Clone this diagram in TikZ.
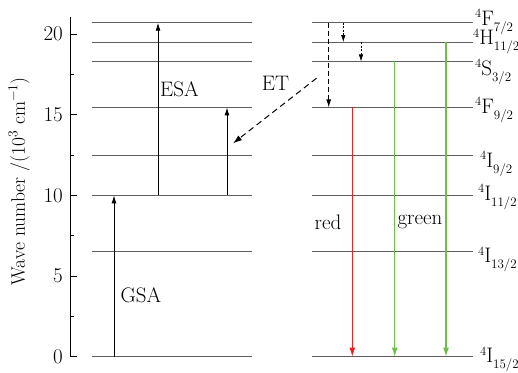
\documentclass[tikz,border=0pt]{standalone}
\usepackage{fontspec}
\usepackage{xcolor}
\usetikzlibrary{arrows.meta, positioning}
\definecolor{levelgray}{RGB}{95, 95, 95}
\definecolor{redline}{RGB}{240, 30, 30}
\definecolor{greenline}{RGB}{110, 190, 70}
\newcommand{\termsym}[2]{\raisebox{7.5pt}{\fontsize{12.5}{12.5}\selectfont 4}#1\raisebox{-6pt}{\fontsize{13}{13}\selectfont #2}}

\begin{document}
\begin{tikzpicture}[
    x=1pt, y=16.13pt,
    font=\fontsize{21}{24}\selectfont,
    level/.style={draw=levelgray, line width=0.9pt},
    term/.style={anchor=base west, inner sep=0pt},
    ticklabel/.style={anchor=east, inner sep=0pt},
    pump/.style={line width=0.9pt, -{Latex[length=8pt,width=5pt]}},
    transfer/.style={line width=1pt, dash pattern=on 6pt off 4pt, -{Latex[length=9pt,width=6pt]}},
    relax/.style={line width=0.9pt, dash pattern=on 5pt off 3pt, -{Latex[length=8pt,width=5pt]}},
    nonrad/.style={line width=0.7pt, dash pattern=on 2pt off 1.5pt, -{Latex[length=7pt,width=4.5pt]}},
    emit/.style={line width=1.2pt, -{Latex[length=9pt,width=6pt]}},
    tag/.style={inner sep=0pt}
]
\useasboundingbox (-70,-1.01) rectangle (448,22.11);

% axis
\draw[line width=0.9pt] (0,0) -- (0,21.06);
\draw[line width=0.9pt] (0,0) -- (7,0);
\draw[line width=0.9pt] (0,5) -- (7,5);
\draw[line width=0.9pt] (0,10) -- (7,10);
\draw[line width=0.9pt] (0,15) -- (7,15);
\draw[line width=0.9pt] (0,20) -- (7,20);
\draw[line width=0.9pt] (0,2.5) -- (4,2.5);
\draw[line width=0.9pt] (0,7.5) -- (4,7.5);
\draw[line width=0.9pt] (0,12.5) -- (4,12.5);
\draw[line width=0.9pt] (0,17.5) -- (4,17.5);
\node (t0) [ticklabel] at (-7,0) {0};
\node (t5) [ticklabel] at (-7,5) {5};
\node (t10) [ticklabel] at (-7,10) {10};
\node (t15) [ticklabel] at (-7,15) {15};
\node (t20) [ticklabel] at (-7,20) {20};
\node (ylabel) [rotate=90, font=\fontsize{19.5}{22}\selectfont] at (-51,10.87) {Wave number /(10\textsuperscript{3} cm\textsuperscript{−1})};

% levels, left column
\draw[level] (22,20.7) -- (182,20.7);
\draw[level] (22,19.5) -- (182,19.5);
\draw[level] (22,18.3) -- (182,18.3);
\draw[level] (22,15.45) -- (182,15.45);
\draw[level] (22,12.5) -- (182,12.5);
\draw[level] (22,10) -- (182,10);
\draw[level] (22,6.5) -- (182,6.5);
\draw[level] (22,0) -- (182,0);

% levels, right column
\draw[level] (242,20.7) -- (403,20.7);
\draw[level] (242,19.5) -- (403,19.5);
\draw[level] (242,18.3) -- (403,18.3);
\draw[level] (242,15.45) -- (403,15.45);
\draw[level] (242,12.5) -- (403,12.5);
\draw[level] (242,10) -- (403,10);
\draw[level] (242,6.5) -- (403,6.5);
\draw[level] (242,0) -- (403,0);

\node (F7) [term, yshift=-2.3pt] at (405,20.7) {\termsym{F}{7/2}};
\node (H11) [term, yshift=-2.7pt] at (403,19.5) {\termsym{H}{11/2}};
\node (S3) [term, yshift=-13.7pt] at (405,18.3) {\termsym{S}{3/2}};
\node (F9) [term, yshift=-5.7pt] at (405,15.45) {\termsym{F}{9/2}};
\node (I9) [term, yshift=-12pt] at (410,12.5) {\termsym{I}{9/2}};
\node (I11) [term, yshift=-5pt] at (408,10) {\termsym{I}{11/2}};
\node (I13) [term, yshift=-11pt] at (408,6.5) {\termsym{I}{13/2}};
\node (I15) [term, yshift=-6pt] at (410,0) {\termsym{I}{15/2}};

% end points of the transitions
\coordinate (gsa0) at (44,0);
\coordinate (gsa1) at (44,10);
\coordinate (esa0) at (88,10);
\coordinate (esa1) at (88,20.7);
\coordinate (esb0) at (157,10);
\coordinate (esb1) at (157,15.45);
\coordinate (et0) at (246.5,17.26);
\coordinate (et1) at (163,13.22);
\coordinate (rel0) at (258.7,20.7);
\coordinate (rel1) at (258.7,15.45);
\coordinate (nra0) at (273.3,20.7);
\coordinate (nra1) at (273.3,19.5);
\coordinate (nrb0) at (291,19.5);
\coordinate (nrb1) at (291,18.3);
\coordinate (red0) at (282.3,15.45);
\coordinate (red1) at (282.3,0);
\coordinate (gra0) at (324.7,18.3);
\coordinate (gra1) at (324.7,0);
\coordinate (grb0) at (376,19.5);
\coordinate (grb1) at (376,0);

\draw[pump] (gsa0) -- (gsa1);
\draw[pump] (esa0) -- (esa1);
\draw[pump] (esb0) -- (esb1);
\draw[transfer] (et0) -- (et1);
\draw[relax] (rel0) -- (rel1);
\draw[nonrad] (nra0) -- (nra1);
\draw[nonrad] (nrb0) -- (nrb1);
\draw[emit, draw=redline, fill=redline] (red0) -- (red1);
\draw[emit, draw=greenline, fill=greenline] (gra0) -- (gra1);
\draw[emit, draw=greenline, fill=greenline] (grb0) -- (grb1);

\node (gsa) [tag] at (71,3.8) {GSA};
\node (esa) [tag, anchor=west] at (90,16.6) {ESA};
\node (et) [tag] at (205.5,16.95) {ET};
\node (red) [tag] at (258,8.3) {red};
\node (green) [tag] at (350,8.35) {green};

\end{tikzpicture}
\end{document}
